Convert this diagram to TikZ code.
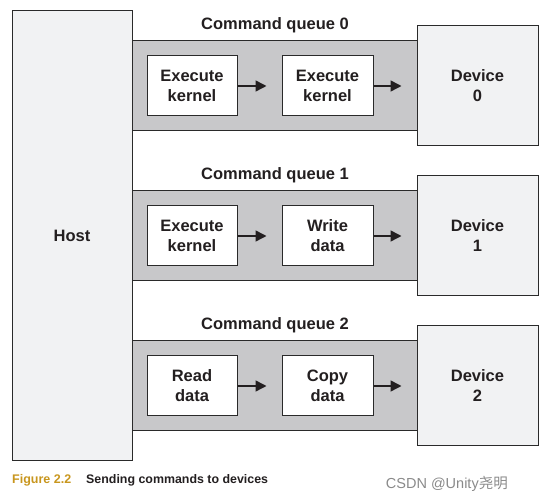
\documentclass[tikz,border=0pt]{standalone}
\usepackage{fontspec}
\setmainfont{Liberation Sans}
\newfontfamily\cjkfont{Noto Sans CJK SC}
\usetikzlibrary{arrows.meta}
\definecolor{bandgray}{HTML}{C8C8CA}
\definecolor{lightfill}{HTML}{F1F2F3}
\definecolor{edge}{HTML}{2A2A2A}
\definecolor{gold}{HTML}{C8961E}
\definecolor{wmgray}{HTML}{8A8A8A}
\definecolor{ink}{HTML}{231F20}
\tikzset{
  bigbox/.style={draw=edge, line width=1pt, fill=lightfill, inner sep=0pt, font=\fontsize{16.5}{20}\bfseries\selectfont, text=ink, align=center},
  band/.style={draw=edge, line width=1pt, fill=bandgray, inner sep=0pt, minimum width=286pt, minimum height=90pt},
  cmdbox/.style={draw=edge, line width=1pt, fill=white, inner sep=0pt, minimum height=60pt, font=\fontsize{16.5}{20}\bfseries\selectfont, text=ink, align=center},
  qtitle/.style={font=\fontsize{16.5}{20}\bfseries\selectfont, text=ink},
  arr/.style={draw=ink, line width=1.5pt, -{Triangle[length=11pt,width=11pt]}}
}
\begin{document}
\begin{tikzpicture}[x=1pt,y=-1pt]
\useasboundingbox (0,0) rectangle (555,502);
\foreach \i/\ta/\tb in {0/{Execute\\kernel}/{Execute\\kernel},1/{Execute\\kernel}/{Write\\data},2/{Read\\data}/{Copy\\data}}{
  \pgfmathsetmacro{\d}{150*\i}
  \node[qtitle] (t\i) at (275,25+\d) {Command queue \i};
  \node[band] (q\i) at (275,86+\d) {};
  \node[bigbox, minimum width=121pt, minimum height=120pt] (dev\i) at (477.5,86+\d) {Device\\\i};
  \node[cmdbox, minimum width=90pt] (a\i) at (192,86+\d) {\ta};
  \node[cmdbox, minimum width=91pt] (b\i) at (327.5,86+\d) {\tb};
  \draw[arr] (a\i.east) -- ([xshift=-15pt]b\i.west);
  \draw[arr] (b\i.east) -- ([xshift=-15pt]dev\i.west);
}
\node[bigbox, minimum width=120pt, minimum height=450pt] (host) at (72,236) {Host};
\node[anchor=west, inner sep=0pt, font=\fontsize{12.5}{14}\bfseries\selectfont, text=gold] (fig) at (12,480) {Figure 2.2};
\node[anchor=west, inner sep=0pt, font=\fontsize{12.4}{14}\bfseries\selectfont, text=ink] (cap) at (86,480) {Sending commands to devices};
\node[anchor=east, inner sep=0pt, font=\fontsize{14.5}{16}\selectfont, text=wmgray] (wm) at (508,484) {CSDN @Unity{\cjkfont 尧明}};
\end{tikzpicture}
\end{document}
